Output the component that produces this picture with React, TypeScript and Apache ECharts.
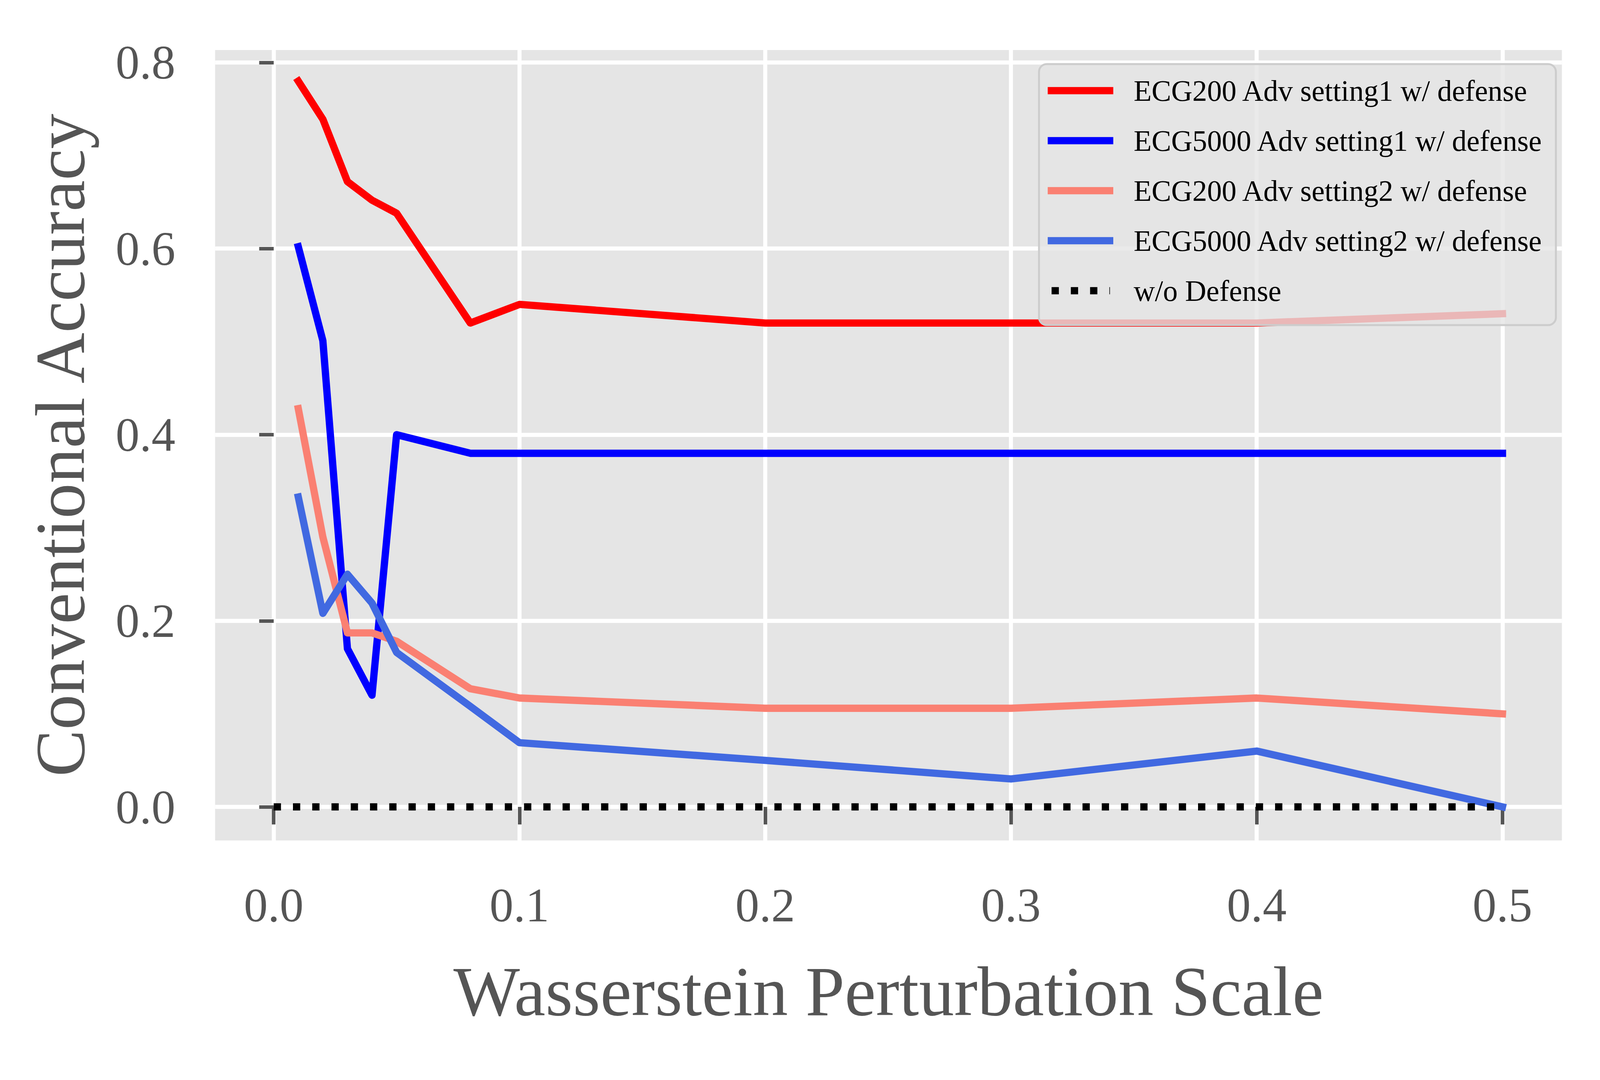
import React, { useEffect, useRef } from "react";
import * as echarts from "echarts";

// ---- data ----
const perturbationScale = [0.01, 0.02, 0.03, 0.04, 0.05, 0.08, 0.1, 0.2, 0.3, 0.4, 0.5];
const ecg200Setting1 = [0.78, 0.739, 0.672, 0.652, 0.638, 0.52, 0.54, 0.52, 0.52, 0.52, 0.53];
const ecg5000Setting1 = [0.602, 0.501, 0.17, 0.12, 0.4, 0.38, 0.38, 0.38, 0.38, 0.38, 0.38];
const ecg200Setting2 = [0.428, 0.29, 0.187, 0.187, 0.178, 0.127, 0.117, 0.106, 0.106, 0.117, 0.1];
const ecg5000Setting2 = [0.333, 0.208, 0.25, 0.219, 0.166, 0.108, 0.069, 0.05, 0.03, 0.06, 0.0];
const noDefenseScale = [0.0, 0.5];
const noDefenseAccuracy = [0.0, 0.0];

const seriesNames = [
  "ECG200 Adv setting1 w/ defense",
  "ECG5000 Adv setting1 w/ defense",
  "ECG200 Adv setting2 w/ defense",
  "ECG5000 Adv setting2 w/ defense",
  "w/o Defense",
];
const seriesColors = ["#ff0000", "#0000ff", "#fa8072", "#4169e1", "#000000"];

const xTickValues = [0, 0.1, 0.2, 0.3, 0.4, 0.5];
const yTickValues = [0, 0.2, 0.4, 0.6, 0.8];

const xTitle = "Wasserstein Perturbation Scale";
const yTitle = "Conventional Accuracy";

const FONT = "'Liberation Serif', 'Times New Roman', 'DejaVu Serif', serif";
const REF_W = 4954;
const REF_H = 2764;

function pairs(xs: number[], ys: number[]) {
  return xs.map((x, i) => [x, ys[i]]);
}

export default function App() {
  const ref = useRef<HTMLDivElement>(null);

  useEffect(() => {
    const el = ref.current;
    if (!el) return;
    const W = el.clientWidth || REF_W;
    const H = el.clientHeight || REF_H;
    const sx = W / REF_W;
    const sy = H / REF_H;
    const f = Math.min(sx, sy);
    const X = (v: number) => v * sx;
    const Y = (v: number) => v * sy;
    const F = (v: number) => v * f;
    const LW = F(22.5);

    const tickFs = F(148);
    const titleFs = F(218);
    const legendFs = F(91);

    const chart = echarts.init(el, undefined, { renderer: "svg" });

    const solid = [ecg200Setting1, ecg5000Setting1, ecg200Setting2, ecg5000Setting2];
    const series: any[] = solid.map((ys, i) => ({
      type: "line",
      name: seriesNames[i],
      data: pairs(perturbationScale, ys),
      symbol: "none",
      showSymbol: false,
      itemStyle: { color: seriesColors[i] },
      lineStyle: { color: seriesColors[i], width: LW, cap: "square", join: "round" },
      emphasis: { disabled: true },
    }));
    series.push({
      type: "line",
      name: seriesNames[4],
      data: pairs(noDefenseScale, noDefenseAccuracy),
      symbol: "none",
      showSymbol: false,
      itemStyle: { color: seriesColors[4] },
      lineStyle: { color: seriesColors[4], width: LW, type: [LW, LW * 1.65], cap: "butt" },
      emphasis: { disabled: true },
    });

    const tickLabel = { fontSize: tickFs, color: "#555555", fontFamily: FONT };
    const titleStyle = { fontSize: titleFs, color: "#555555", fontFamily: FONT };

    // legend handle icons (reference pixel units, 203 x 22.5)
    const dotIcon =
      "path://M0,0L0,0Z M203,22.5L203,22.5Z " +
      "M12,0h22.5v22.5h-22.5Z M71.6,0h22.5v22.5h-22.5Z M131.2,0h22.5v22.5h-22.5Z M190.8,0h1.8v22.5h-1.8Z";

    const legendData = seriesNames.map((name, i) => ({
      name,
      icon: i === 4 ? dotIcon : "rect",
      itemStyle: { color: seriesColors[i], borderWidth: 0 },
    }));

    // reference geometry (pixels of the 4954 x 2764 reference)
    const xAxisLineY = 2166; // grid bottom 2151 + 15 offset
    const yAxisLineX = 651; // grid left 666 - 15 offset
    const legendLineH = F(100);

    chart.setOption({
      animation: false,
      backgroundColor: "#ffffff",
      grid: {
        left: X(666),
        right: W - X(4836),
        top: Y(128),
        bottom: H - Y(2151),
        show: true,
        backgroundColor: "#e5e5e5",
        borderWidth: 0,
      },
      xAxis: {
        type: "value",
        min: -0.02385,
        max: 0.52418,
        offset: Y(15),
        axisLine: { show: false },
        axisTick: {
          show: true,
          length: Y(45),
          customValues: xTickValues,
          lineStyle: { color: "#555555", width: F(11) },
        },
        axisLabel: {
          ...tickLabel,
          customValues: xTickValues,
          margin: Y(2317 - xAxisLineY) - tickFs / 2,
          formatter: (v: number) => v.toFixed(1),
        },
        splitLine: { show: true, lineStyle: { color: "#ffffff", width: F(12.6) } },
        name: xTitle,
        nameLocation: "middle",
        nameGap: Y(2537 - xAxisLineY) - titleFs / 2,
        nameTextStyle: titleStyle,
      },
      yAxis: {
        type: "value",
        min: -0.0361,
        max: 0.8134,
        offset: X(15),
        axisLine: { show: false },
        axisTick: {
          show: true,
          length: X(45),
          customValues: yTickValues,
          lineStyle: { color: "#555555", width: F(11) },
        },
        axisLabel: {
          ...tickLabel,
          customValues: yTickValues,
          margin: X(108),
          formatter: (v: number) => v.toFixed(1),
        },
        splitLine: { show: true, lineStyle: { color: "#ffffff", width: F(12.6) } },
        name: yTitle,
        nameLocation: "middle",
        nameRotate: 90,
        nameGap: X(yAxisLineX - 186) - titleFs / 2,
        nameTextStyle: titleStyle,
      },
      legend: {
        orient: "vertical",
        left: X(3217),
        top: Y(164),
        padding: [
          Y(232 - 164) - legendLineH / 2,
          X(39),
          Y(833 - 745) - legendLineH / 2,
          X(27),
        ],
        itemWidth: X(203),
        itemHeight: LW,
        itemGap: Y(128) - legendLineH,
        backgroundColor: "rgba(229,229,229,0.8)",
        borderColor: "#cccccc",
        borderWidth: F(6),
        borderRadius: F(24),
        selectedMode: false,
        itemStyle: { borderWidth: 0 },
        textStyle: {
          fontSize: legendFs,
          lineHeight: legendLineH,
          color: "#000000",
          fontFamily: FONT,
          padding: [0, 0, 0, X(57)],
        },
        data: legendData,
      },
      series,
    });

    return () => chart.dispose();
  }, []);

  return (
    <div
      ref={ref}
      style={{ position: "fixed", left: 0, top: 0, width: "100vw", height: "100vh" }}
    />
  );
}
